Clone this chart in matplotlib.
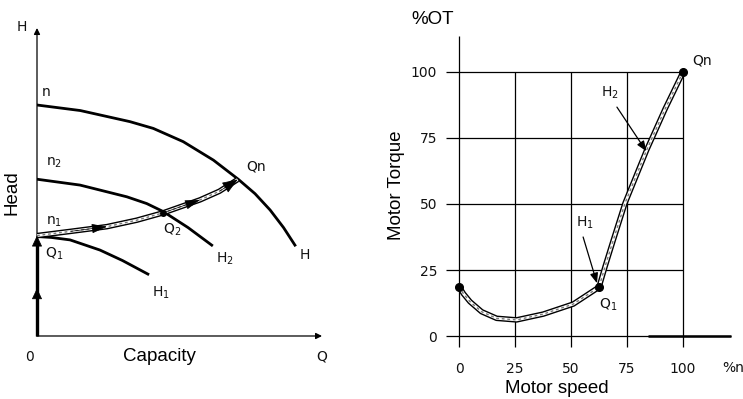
"""
Pump curves vs. motor torque for a variable-speed centrifugal pump.

Left: head/capacity curves at three speeds with the operating path.
Right: motor torque as a function of motor speed.
"""

import matplotlib.pyplot as plt

# --- left panel data (capacity %, head %) ---
curve_n_q = [0, 15.2, 32.6, 40.8, 51.3, 61.9, 70.6, 76.5, 81.8, 86.5, 90.5]
curve_n_h = [75.0, 73.2, 69.6, 67.4, 63.1, 57.1, 50.9, 46.2, 40.9, 35.2, 29.5]
curve_n2_q = [0, 15.1, 31.5, 38.5, 44.3, 53, 61.3]
curve_n2_h = [50.9, 49.0, 45.2, 43.0, 40.4, 35.2, 29.5]
curve_n1_q = [0, 5, 11.6, 22.1, 30, 38.9]
curve_n1_h = [32.3, 32.0, 31.2, 27.9, 24.5, 20.1]
path_q = [0, 12, 24.5, 35, 44.3, 57.2, 64, 70.4]
path_h = [32.6, 34.0, 35.5, 37.6, 40.0, 44.2, 47.0, 50.8]

# --- right panel data (motor speed %, torque %) ---
speed = [0, 2, 4.9, 10.1, 16.8, 25.7, 37.6, 51, 62.5,
         65.2, 68.9, 74.1, 83.8, 92, 100]
torque = [18.7, 16.0, 13.0, 9.2, 6.7, 6.1, 8.3, 12.1, 18.5,
          26.3, 36.4, 50.3, 70.5, 86, 100]
marked_speed = [0, 62.5, 100]
marked_torque = [18.7, 18.5, 100]
ticks = [0, 25, 50, 75, 100]

SMALL = {"family": "DejaVu Sans", "fontsize": 10, "color": "#111111"}
LABEL = {"family": "Liberation Sans", "fontsize": 13.5}


def hollow_line(ax, x, y):
    """Double-walled line like the hatched operating path."""
    ax.plot(x, y, color="black", lw=4.0, solid_capstyle="butt", zorder=3)
    ax.plot(x, y, color="white", lw=2.0, solid_capstyle="butt", zorder=4)
    ax.plot(x, y, color="#777777", lw=1.0, dashes=(2, 2), zorder=5)


def head(ax, tip, tail, length, half_width, scale):
    """Filled arrow head only, pointing from tail to tip."""
    style = f"-|>,head_length={length},head_width={half_width}"
    ax.annotate("", xy=tip, xytext=tail, annotation_clip=False, zorder=7,
                arrowprops=dict(arrowstyle=style, color="black", lw=0.5,
                                mutation_scale=scale, shrinkA=0, shrinkB=0))


fig = plt.figure(figsize=(7.43, 3.99), dpi=100)

# ---------------- left panel ----------------
ax1 = fig.add_axes([0.0498, 0.1579, 0.3836, 0.7719])
ax1.set_xlim(0, 100)
ax1.set_ylim(0, 100)
ax1.axis("off")

arrow_kw = dict(arrowstyle="-|>", color="black", lw=0.9, mutation_scale=9,
                shrinkA=0, shrinkB=0)
ax1.annotate("", xy=(100, 0), xytext=(0, 0), arrowprops=arrow_kw,
             annotation_clip=False)
ax1.annotate("", xy=(0, 100), xytext=(0, 0), arrowprops=arrow_kw,
             annotation_clip=False)

for q, h in [(curve_n_q, curve_n_h), (curve_n2_q, curve_n2_h),
             (curve_n1_q, curve_n1_h)]:
    ax1.plot(q, h, color="black", lw=2.0, zorder=2)

# thick start-up arrow along the head axis
ax1.plot([0, 0], [0, path_h[0] - 2], color="black", lw=2.4, zorder=6,
         clip_on=False, solid_capstyle="butt")
head(ax1, (0, 15.5), (0, 10), 0.7, 0.33, 10)
head(ax1, (0, path_h[0]), (0, 26), 0.7, 0.33, 10)

hollow_line(ax1, path_q, path_h)
head(ax1, (path_q[2], path_h[2]), (path_q[1], path_h[1]), 0.8, 0.25, 12)
head(ax1, (path_q[5], path_h[5]), (path_q[4], path_h[4]), 0.8, 0.25, 12)
head(ax1, (path_q[-1], path_h[-1]), (path_q[-2], path_h[-2]), 0.7, 0.27, 14)
ax1.plot(path_q[4], path_h[4], "o", color="black", ms=4, zorder=8)

ax1.text(-5.3, 100.3, "H", ha="center", va="center", **SMALL)
ax1.text(-2.8, -6.8, "0", ha="center", va="center", **SMALL)
ax1.text(100, -6.8, "Q", ha="center", va="center", **SMALL)
ax1.text(43, -6.5, "Capacity", ha="center", va="center", **LABEL)
ax1.text(-8.8, 46.4, "Head", ha="center", va="center", rotation=90, **LABEL)
ax1.text(3.2, 79.2, "n", ha="center", va="center", **SMALL)
ax1.text(6.0, 56.2, "n$_2$", ha="center", va="center", **SMALL)
ax1.text(6.0, 37.0, "n$_1$", ha="center", va="center", **SMALL)
ax1.text(6.0, 26.6, "Q$_1$", ha="center", va="center", **SMALL)
ax1.text(47.5, 34.4, "Q$_2$", ha="center", va="center", **SMALL)
ax1.text(66.0, 25.0, "H$_2$", ha="center", va="center", **SMALL)
ax1.text(43.5, 14.0, "H$_1$", ha="center", va="center", **SMALL)
ax1.text(77.0, 54.9, "Qn", ha="center", va="center", **SMALL)
ax1.text(94.0, 26.3, "H", ha="center", va="center", **SMALL)

# ---------------- right panel ----------------
ax2 = fig.add_axes([0.5997, 0.1248, 0.3859, 0.7874])
ax2.set_xlim(-6, 122)
ax2.set_ylim(-5, 114)
for side in ax2.spines.values():
    side.set_visible(False)
ax2.set_xticks(ticks)
ax2.set_yticks(ticks)
ax2.set_xticklabels([str(t) for t in ticks], **SMALL)
ax2.set_yticklabels([str(t) for t in ticks], **SMALL)
ax2.tick_params(length=0)
ax2.tick_params(axis="x", pad=9)
ax2.tick_params(axis="y", pad=6)

ax2.vlines(0, -4, 113.6, color="black", lw=0.9)
ax2.vlines(ticks[1:], -4, ticks[-1], color="black", lw=0.9)
ax2.hlines(ticks[1:], -6, ticks[-1], color="black", lw=0.9)
ax2.hlines(0, -6, 121.5, color="black", lw=0.9)
ax2.hlines(0, 84.4, 121.5, color="black", lw=1.8)

hollow_line(ax2, speed, torque)
ax2.plot(marked_speed, marked_torque, "o", color="black", ms=5.5, zorder=8)

thin_arrow = dict(arrowstyle="-|>,head_length=0.5,head_width=0.2",
                  color="black", lw=0.9, mutation_scale=12,
                  shrinkA=0, shrinkB=0)
ax2.annotate("", xy=(83.6, 70.0), xytext=(70.5, 86.7), arrowprops=thin_arrow,
             zorder=9)
ax2.annotate("", xy=(61.6, 20.0), xytext=(55.4, 37.5), arrowprops=thin_arrow,
             zorder=9)

ax2.text(67.4, 92.0, "H$_2$", ha="center", va="center", **SMALL)
ax2.text(56.3, 42.8, "H$_1$", ha="center", va="center", **SMALL)
ax2.text(66.5, 11.7, "Q$_1$", ha="center", va="center", **SMALL)
ax2.text(108.5, 104.5, "Qn", ha="center", va="center", **SMALL)
ax2.text(122.5, -12.0, "%n", ha="center", va="center", **SMALL)
ax2.text(-11.6, 119.7, "%OT", ha="center", va="center", **LABEL)
ax2.text(-27.7, 57.2, "Motor Torque", ha="center", va="center", rotation=90,
         **LABEL)
ax2.text(43.8, -19.7, "Motor speed", ha="center", va="center", **LABEL)

fig.savefig("out.png", dpi=100)
